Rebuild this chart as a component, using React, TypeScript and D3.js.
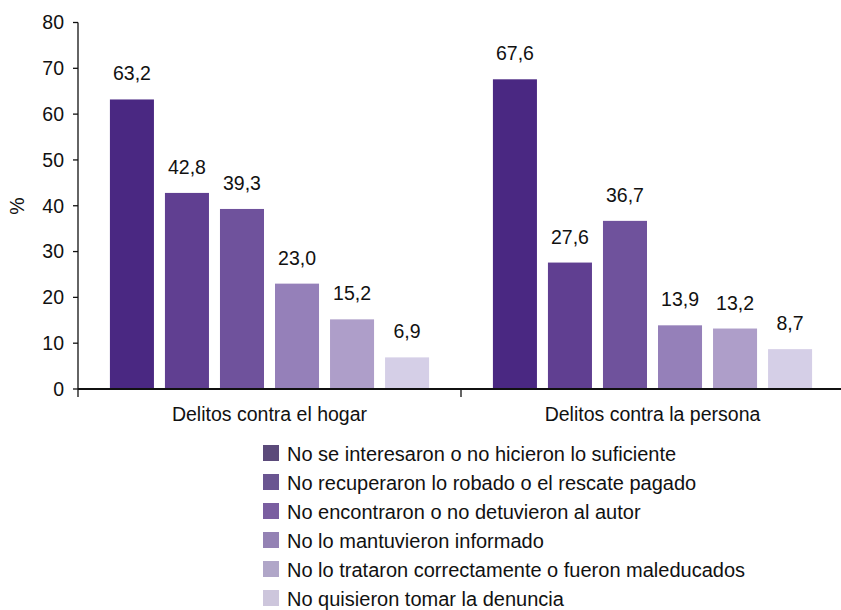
import React from "react";
import * as d3 from "d3";

const categories = ["Delitos contra el hogar", "Delitos contra la persona"];
const seriesNames = [
  "No se interesaron o no hicieron lo suficiente",
  "No recuperaron lo robado o el rescate pagado",
  "No encontraron o no detuvieron al autor",
  "No lo mantuvieron informado",
  "No lo trataron correctamente o fueron maleducados",
  "No quisieron tomar la denuncia",
];
const hogarValues = [63.2, 42.8, 39.3, 23.0, 15.2, 6.9];
const personaValues = [67.6, 27.6, 36.7, 13.9, 13.2, 8.7];
const yTicks = [0, 10, 20, 30, 40, 50, 60, 70, 80];

const barColors = ["#4a2882", "#603f91", "#6f529c", "#9580b9", "#ae9ec9", "#d5cfe7"];
const legendColors = ["#5b4a7a", "#6a5591", "#7a5ea0", "#9482b4", "#b0a6c8", "#cdc6dc"];

const values = [hogarValues, personaValues];

const FONT = "'Liberation Sans', Arial, Helvetica, sans-serif";

export default function App() {
  const W = 841;
  const H = 610;
  const left = 78;
  const right = 844;
  const y0 = 389;
  const yTop = 22.5;

  const y = d3.scaleLinear().domain([0, 80]).range([y0, yTop]);
  const x0 = d3.scaleBand<string>().domain(categories).range([left, right]).padding(0);
  const x1 = d3
    .scaleBand<string>()
    .domain(seriesNames)
    .range([0, x0.bandwidth()])
    .paddingInner(0.2)
    .paddingOuter(0.58);

  const fmt = (v: number) => v.toFixed(1).replace(".", ",");

  const legendX = 263;
  const legendY0 = 445;
  const legendStep = 29;

  return (
    <svg
      width={W}
      height={H}
      style={{ position: "absolute", left: 0, top: 0, background: "#fff" }}
      fontFamily={FONT}
    >
      {/* bars */}
      {categories.map((c, ci) => (
        <g key={c} transform={`translate(${x0(c)},0)`}>
          {seriesNames.map((s, si) => {
            const v = values[ci][si];
            const bx = x1(s)!;
            return (
              <g key={s}>
                <rect
                  x={bx}
                  y={y(v)}
                  width={x1.bandwidth()}
                  height={y0 - y(v)}
                  fill={barColors[si]}
                />
                <text
                  x={bx + x1.bandwidth() / 2}
                  y={y(v) - 19}
                  textAnchor="middle"
                  fontSize={19.5}
                  fill="#111"
                >
                  {fmt(v)}
                </text>
              </g>
            );
          })}
        </g>
      ))}

      {/* y axis */}
      <line x1={left} x2={left} y1={y(80)} y2={y0 + 8} stroke="#111" strokeWidth={1.3} />
      {yTicks.map((t) => (
        <g key={t}>
          <line x1={left - 5} x2={left} y1={y(t)} y2={y(t)} stroke="#111" strokeWidth={1.3} />
          <text x={64} y={y(t)} dy="0.35em" textAnchor="end" fontSize={19.5} fill="#111">
            {t}
          </text>
        </g>
      ))}
      <text
        transform={`translate(24,206) rotate(-90)`}
        textAnchor="middle"
        fontSize={19.5}
        fill="#111"
      >
        %
      </text>

      {/* x axis */}
      <line x1={left} x2={W} y1={y0} y2={y0} stroke="#111" strokeWidth={2} />
      {categories.map((c, i) =>
        i > 0 ? (
          <line
            key={"tk" + c}
            x1={x0(c)!}
            x2={x0(c)!}
            y1={y0}
            y2={y0 + 8}
            stroke="#111"
            strokeWidth={1.3}
          />
        ) : null
      )}
      {categories.map((c) => (
        <text
          key={"lbl" + c}
          x={x0(c)! + x0.bandwidth() / 2}
          y={421}
          textAnchor="middle"
          fontSize={19.5}
          fill="#111"
        >
          {c}
        </text>
      ))}

      {/* legend */}
      {seriesNames.map((s, i) => (
        <g key={"lg" + s} transform={`translate(${legendX},${legendY0 + i * legendStep})`}>
          <rect x={0} y={0} width={16} height={16} fill={legendColors[i]} />
          <text x={24} y={16} fontSize={20} fill="#111">
            {s}
          </text>
        </g>
      ))}
    </svg>
  );
}
